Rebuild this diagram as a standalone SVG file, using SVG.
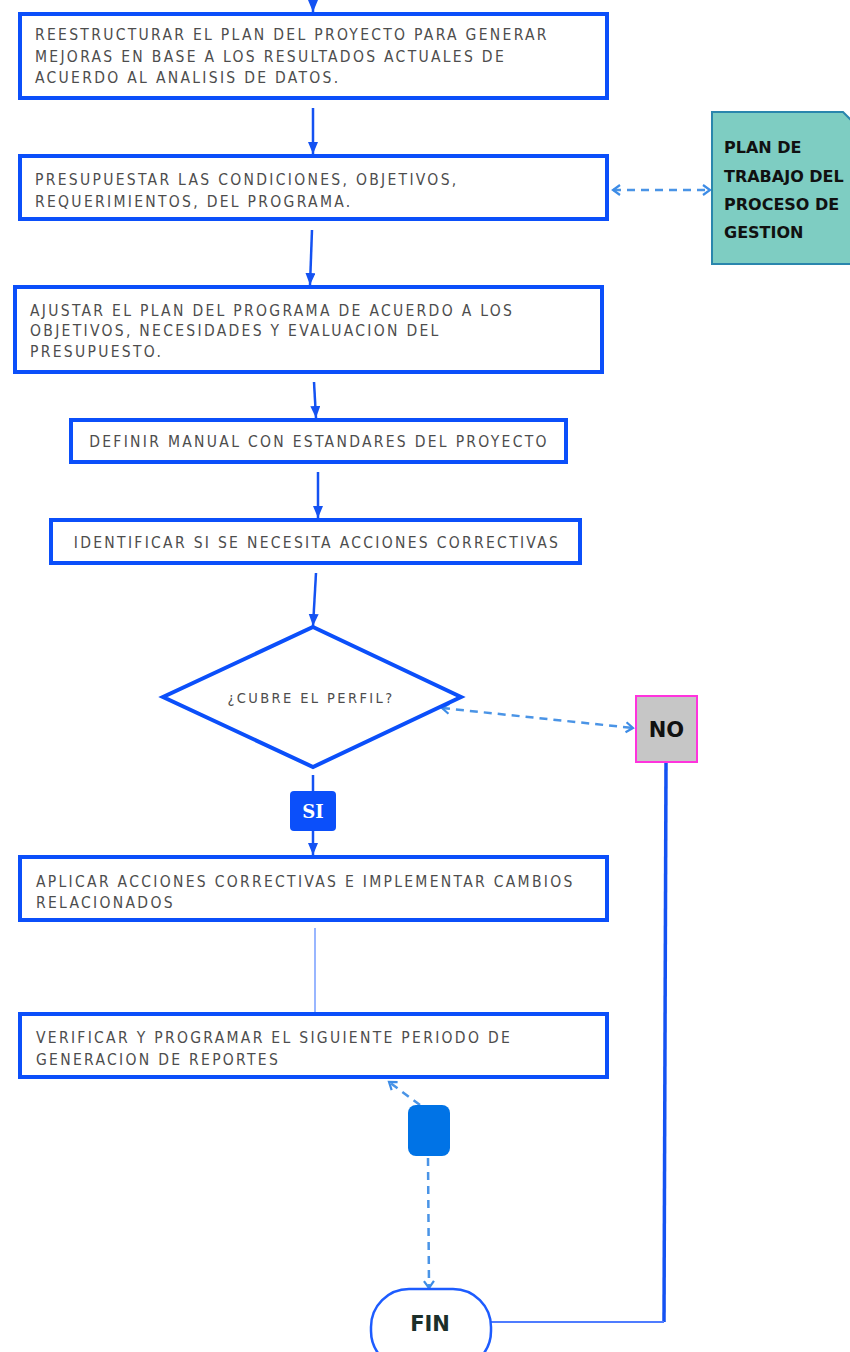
<svg xmlns="http://www.w3.org/2000/svg" width="850" height="1352" viewBox="0 0 850 1352">
<defs>
<style>
.box{fill:#fff;stroke:#0b4ffa;stroke-width:4}
.t{font-family:"DejaVu Sans",Verdana,sans-serif;font-stretch:condensed;font-size:15.5px;letter-spacing:2.3px;fill:#4d4d4d}
.tb{font-family:"DejaVu Sans",Verdana,sans-serif;font-weight:bold;fill:#111}
.ln{fill:none;stroke:#1452f2;stroke-width:2.5}
.dl{fill:none;stroke:#4a94e6;stroke-width:2.5;stroke-dasharray:8 6}
</style>
<marker id="arr" markerUnits="userSpaceOnUse" markerWidth="14" markerHeight="12" refX="12" refY="5" orient="auto" viewBox="0 0 14 12">
<path d="M0,0 L12,5 L0,10 Z" fill="#1452f2"/>
</marker>
<marker id="chev" markerUnits="userSpaceOnUse" markerWidth="12" markerHeight="14" refX="8" refY="6" orient="auto-start-reverse" viewBox="0 0 12 14">
<path d="M1,1 L8,6 L1,11" fill="none" stroke="#3d8ce6" stroke-width="2.2"/>
</marker>
</defs>

<g id="connectors">
<line class="ln" x1="313" y1="0" x2="313" y2="12" marker-end="url(#arr)"/>
<line class="ln" x1="313" y1="108" x2="313" y2="154" marker-end="url(#arr)"/>
<line class="ln" x1="312" y1="230" x2="310" y2="285" marker-end="url(#arr)"/>
<line class="ln" x1="314" y1="382" x2="316" y2="418" marker-end="url(#arr)"/>
<line class="ln" x1="318" y1="472" x2="318" y2="518" marker-end="url(#arr)"/>
<line class="ln" x1="316" y1="573" x2="313" y2="626" marker-end="url(#arr)"/>
<line class="dl" x1="613" y1="190" x2="710" y2="190" marker-start="url(#chev)" marker-end="url(#chev)"/>
<line class="dl" x1="442" y1="708" x2="633" y2="728" marker-start="url(#chev)" marker-end="url(#chev)"/>
<line class="ln" x1="313" y1="775" x2="313" y2="791"/>
<line class="ln" x1="313" y1="831" x2="313" y2="855" marker-end="url(#arr)"/>
<line x1="315" y1="928" x2="315" y2="1012" stroke="#7fa4ff" stroke-width="1.6"/>
<line class="dl" x1="420" y1="1105" x2="389" y2="1082" marker-end="url(#chev)"/>
<line class="dl" x1="428" y1="1158" x2="429" y2="1288" marker-end="url(#chev)"/>
<path d="M666,762 L664,1322" fill="none" stroke="#1452f2" stroke-width="3.5"/>
<path d="M664,1322 L491,1322" fill="none" stroke="#4f7cff" stroke-width="2"/>
</g>

<g id="n1">
<rect class="box" x="20" y="14" width="587" height="84"/>
<text class="t" x="35" y="40">REESTRUCTURAR EL PLAN DEL PROYECTO PARA GENERAR</text>
<text class="t" x="35" y="62">MEJORAS EN BASE A LOS RESULTADOS ACTUALES DE</text>
<text class="t" x="35" y="83">ACUERDO AL ANALISIS DE DATOS.</text>
</g>

<g id="n2">
<rect class="box" x="20" y="156" width="587" height="63"/>
<text class="t" x="35" y="185">PRESUPUESTAR LAS CONDICIONES, OBJETIVOS,</text>
<text class="t" x="35" y="207">REQUERIMIENTOS, DEL PROGRAMA.</text>
</g>

<g id="plan">
<path d="M712,112 H843 L852,121 V264 H712 Z" fill="#7ecdc2" stroke="#2a86ad" stroke-width="2"/>
<text class="tb" font-size="16" x="724" y="153">PLAN DE</text>
<text class="tb" font-size="16" x="724" y="182">TRABAJO DEL</text>
<text class="tb" font-size="16" x="724" y="210">PROCESO DE</text>
<text class="tb" font-size="16" x="724" y="238">GESTION</text>
</g>

<g id="n3">
<rect class="box" x="15" y="287" width="587" height="85"/>
<text class="t" x="30" y="316">AJUSTAR EL PLAN DEL PROGRAMA DE ACUERDO A LOS</text>
<text class="t" x="30" y="336">OBJETIVOS, NECESIDADES Y EVALUACION DEL</text>
<text class="t" x="30" y="357">PRESUPUESTO.</text>
</g>

<g id="n4">
<rect class="box" x="71" y="420" width="495" height="42"/>
<text class="t" x="319" y="447" text-anchor="middle">DEFINIR MANUAL CON ESTANDARES DEL PROYECTO</text>
</g>

<g id="n5">
<rect class="box" x="51" y="520" width="529" height="43"/>
<text class="t" x="317" y="548" text-anchor="middle">IDENTIFICAR SI SE NECESITA ACCIONES CORRECTIVAS</text>
</g>

<g id="decision">
<path d="M313,627 L461,697 L313,767 L163,697 Z" fill="#fff" stroke="#0b4ffa" stroke-width="4" stroke-linejoin="miter"/>
<text class="t" style="font-size:14.5px;letter-spacing:2.4px" x="311" y="703" text-anchor="middle">¿CUBRE EL PERFIL?</text>
</g>

<g id="no">
<rect x="636" y="696" width="61" height="66" fill="#c6c6c6" stroke="#ff33dd" stroke-width="2"/>
<text class="tb" font-size="21" x="666.5" y="737" text-anchor="middle">NO</text>
</g>

<g id="si">
<rect x="290" y="791" width="46" height="40" rx="4" fill="#0b4ffa"/>
<text x="313" y="818" text-anchor="middle" font-family="'DejaVu Serif',serif" font-weight="bold" font-size="18" fill="#fff">SI</text>
</g>

<g id="n6">
<rect class="box" x="20" y="857" width="587" height="63"/>
<text class="t" x="36" y="887">APLICAR ACCIONES CORRECTIVAS E IMPLEMENTAR CAMBIOS</text>
<text class="t" x="36" y="908">RELACIONADOS</text>
</g>

<g id="n7">
<rect class="box" x="20" y="1014" width="587" height="63"/>
<text class="t" x="36" y="1043">VERIFICAR Y PROGRAMAR EL SIGUIENTE PERIODO DE</text>
<text class="t" x="36" y="1065">GENERACION DE REPORTES</text>
</g>

<g id="small">
<rect x="408" y="1105" width="42" height="51" rx="8" fill="#0073e6"/>
</g>

<g id="fin">
<rect x="371" y="1289" width="120" height="80" rx="38" fill="#fff" stroke="#1d5cff" stroke-width="2.5"/>
<text class="tb" font-size="21" x="430" y="1331" text-anchor="middle" style="fill:#1b2f2a">FIN</text>
</g>
</svg>
